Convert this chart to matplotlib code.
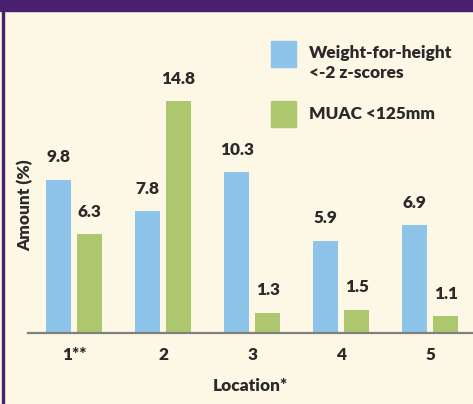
import numpy as np
import matplotlib
matplotlib.use("Agg")
import matplotlib.pyplot as plt
from matplotlib.patches import Rectangle

locations = ["1**", "2", "3", "4", "5"]
wfh = [9.8, 7.8, 10.3, 5.9, 6.9]
muac = [6.3, 14.8, 1.3, 1.5, 1.1]
series_names = ["Weight-for-height\n<-2 z-scores", "MUAC <125mm"]

BLUE = "#8ec4e9"
GREEN = "#adc76f"
BG = "#fcf8e5"
PURPLE = "#4a1f70"
TXT = "#2b2a2b"
FS = 12.4

plt.rcParams['font.family'] = ['Lato', 'DejaVu Sans']

W, H = 473, 404
fig = plt.figure(figsize=(W / 100, H / 100), dpi=100, facecolor=BG)


def px(x0, y0, w, h):
    # pixel box (top-left origin) -> figure fraction
    return [x0 / W, 1 - (y0 + h) / H, w / W, h / H]


ax = fig.add_axes(px(28, 20, 445, 313))
ax.set_facecolor(BG)

x = np.arange(len(locations))
bw = 0.28
off = 0.174
b1 = ax.bar(x - off, wfh, bw, color=BLUE)
b2 = ax.bar(x + off, muac, bw, color=GREEN)

for bars, vals in ((b1, wfh), (b2, muac)):
    for rect, v in zip(bars, vals):
        ax.annotate(f"{v}", (rect.get_x() + rect.get_width() / 2, v),
                    xytext=(0, 16), textcoords="offset points",
                    ha="center", va="center", fontsize=FS,
                    fontweight="heavy", color=TXT)

ax.set_xlim(-0.516, 4.478)
ax.set_ylim(0, 20)
for s in ("top", "right", "left"):
    ax.spines[s].set_visible(False)
ax.spines["bottom"].set_color("#808080")
ax.spines["bottom"].set_linewidth(1.6)
ax.set_yticks([])
ax.set_xticks(x)
ax.set_xticklabels(locations, fontsize=FS, fontweight="heavy", color=TXT)
ax.tick_params(axis="x", length=0, pad=10)
ax.set_xlabel("Location*", fontsize=FS, fontweight="heavy", color=TXT, labelpad=11)

fig.text(25.5 / W, 1 - 205 / H, "Amount (%)", rotation=90, ha="center", va="center",
         fontsize=FS, fontweight="heavy", color=TXT)

# legend
for (y0, col, name, ty) in ((41, BLUE, series_names[0], 63), (101, GREEN, series_names[1], 114)):
    fig.patches.append(Rectangle((271 / W, 1 - (y0 + 26) / H), 25 / W, 26 / H,
                                 transform=fig.transFigure, color=col))
    fig.text(309 / W, 1 - ty / H, name, ha="left", va="center", fontsize=FS,
             fontweight="heavy", color=TXT, linespacing=1.3)

# frame: purple band on top and thin line on the left
fig.patches.append(Rectangle((0, 1 - 11 / H), 1, 11 / H, transform=fig.transFigure,
                             color=PURPLE, zorder=5))
fig.patches.append(Rectangle((1.5 / W, 0), 2.5 / W, 1, transform=fig.transFigure,
                             color=PURPLE, zorder=5))

fig.savefig("out.png", dpi=100, facecolor=BG)
